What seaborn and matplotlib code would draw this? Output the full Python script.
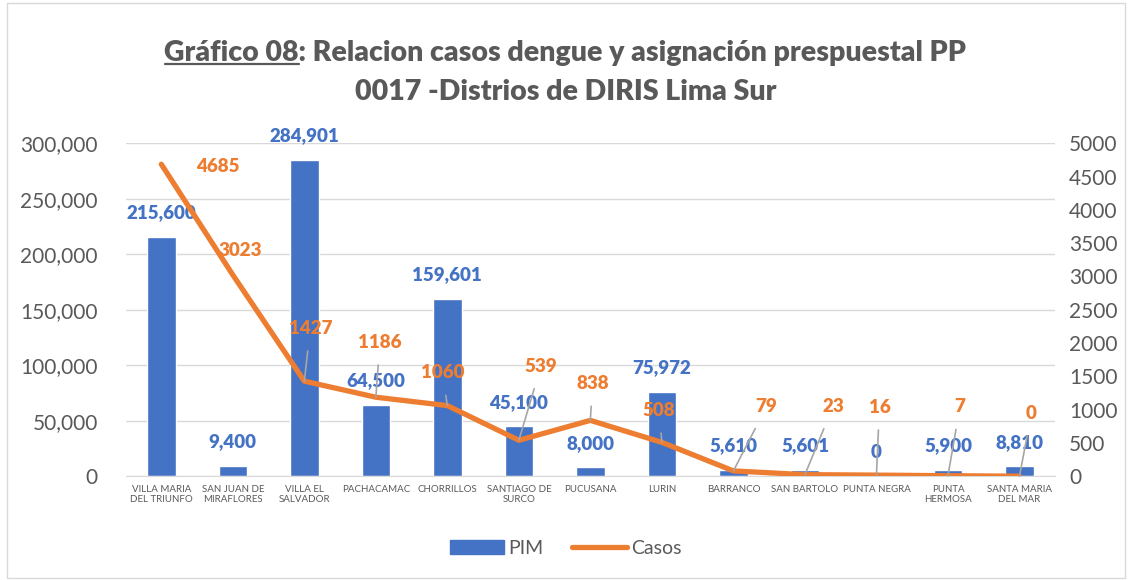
import matplotlib

matplotlib.use("Agg")
import matplotlib.pyplot as plt
import pandas as pd
import seaborn as sns
from matplotlib.lines import Line2D
from matplotlib.patches import Patch, Rectangle

# --- data ---
distritos = [
    "VILLA MARIA\nDEL TRIUNFO", "SAN JUAN DE\nMIRAFLORES", "VILLA EL\nSALVADOR",
    "PACHACAMAC", "CHORRILLOS", "SANTIAGO DE\nSURCO", "PUCUSANA", "LURIN",
    "BARRANCO", "SAN BARTOLO", "PUNTA NEGRA", "PUNTA\nHERMOSA",
    "SANTA MARIA\nDEL MAR",
]
pim = [215600, 9400, 284901, 64500, 159601, 45100, 8000, 75972,
       5610, 5601, 0, 5900, 8810]
casos = [4685, 3023, 1427, 1186, 1060, 539, 838, 508, 79, 23, 16, 7, 0]

# label offsets for the "Casos" labels (pixels from the point), and whether
# a grey leader line is drawn, as in the original Excel chart
casos_offsets = [(57, -2), (7, 24), (6, 53), (4, 55), (-5, 33), (22, 74),
                 (2, 37), (-3, 32), (33, 64), (28, 68), (3, 68), (12, 69),
                 (12, 63)]
casos_leader = [False, False, True, True, True, True, True, True,
                True, True, True, True, True]

BLUE = "#4472C4"
ORANGE = "#ED7D31"
GREY = "#595959"

df = pd.DataFrame({"distrito": distritos, "PIM": pim, "Casos": casos})

sns.set_style("white")
plt.rcParams["font.family"] = ["Lato", "DejaVu Sans"]

fig = plt.figure(figsize=(11.31, 5.8), dpi=100)
fig.patches.append(Rectangle((0.006, 0.004), 0.989, 0.99, transform=fig.transFigure,
                             fill=False, edgecolor="#D9D9D9", linewidth=1))
ax = fig.add_axes([0.111, 0.179, 0.822, 0.574])

sns.barplot(data=df, x="distrito", y="PIM", color=BLUE, width=0.4,
            saturation=1, ax=ax, zorder=2)
ax.set_ylim(0, 300000)
ax.set_xlim(-0.5, len(distritos) - 0.5)
ax.set_yticks(range(0, 300001, 50000))
ax.yaxis.set_major_formatter(matplotlib.ticker.FuncFormatter(lambda v, p: f"{v:,.0f}"))
ax.grid(axis="y", color="#D9D9D9", linewidth=1, zorder=0)
ax.set_axisbelow(True)
ax.set_xlabel("")
ax.set_ylabel("")
ax.tick_params(axis="y", labelsize=15, labelcolor=GREY, length=0, pad=20)
ax.tick_params(axis="x", labelsize=7, labelcolor=GREY, length=0, pad=6)
for s in ["top", "left", "right"]:
    ax.spines[s].set_visible(False)
ax.spines["bottom"].set_color("#D9D9D9")

for i, v in enumerate(pim):
    ax.annotate(f"{v:,}", (i, v), xytext=(0, 24), textcoords="offset pixels",
                ha="center", va="center", color=BLUE, fontsize=13.5,
                fontweight="heavy", zorder=5)

ax2 = ax.twinx()
sns.lineplot(data=df, x="distrito", y="Casos", color=ORANGE, linewidth=3.8,
             sort=False, ax=ax2, zorder=3)
ax2.set_ylim(0, 5000)
ax2.set_yticks(range(0, 5001, 500))
ax2.set_ylabel("")
ax2.tick_params(axis="y", labelsize=15, labelcolor=GREY, length=0, pad=10)
for s in ax2.spines.values():
    s.set_visible(False)

for i, (v, off, lead) in enumerate(zip(casos, casos_offsets, casos_leader)):
    arrow = dict(arrowstyle="-", color="#A6A6A6", linewidth=1.2,
                 shrinkA=8, shrinkB=0) if lead else None
    ax2.annotate(str(v), (i, v), xytext=off, textcoords="offset pixels",
                 ha="center", va="center", color=ORANGE, fontsize=13.5,
                 fontweight="heavy", arrowprops=arrow, zorder=6)

# title with underlined "Gráfico 08"
title_kw = dict(fontsize=20.5, fontweight="heavy", color=GREY, ha="center", va="center")
line1 = fig.text(0.5, 0.908, "Gráfico 08: Relacion casos dengue y asignación prespuestal PP",
                 **title_kw)
fig.text(0.5, 0.842, "0017 -Distrios de DIRIS Lima Sur", **title_kw)
fig.canvas.draw()
rend = fig.canvas.get_renderer()
bb = line1.get_window_extent(rend)
tmp = fig.text(0, 0, "Gráfico 08", **title_kw)
w = tmp.get_window_extent(rend).width
tmp.remove()
y_ul = bb.y0 + 2
fig.add_artist(Line2D([bb.x0, bb.x0 + w], [y_ul, y_ul], transform=None,
                      color=GREY, linewidth=1.6))

handles = [Patch(color=BLUE, label="PIM"),
           Line2D([], [], color=ORANGE, linewidth=3.8, label="Casos")]
fig.legend(handles=handles, loc="center", bbox_to_anchor=(0.5, 0.055), ncol=2,
           frameon=False, fontsize=14, labelcolor=GREY, handlelength=2.8,
           handletextpad=0.2, columnspacing=1.5)

fig.savefig("out.png", dpi=100)
